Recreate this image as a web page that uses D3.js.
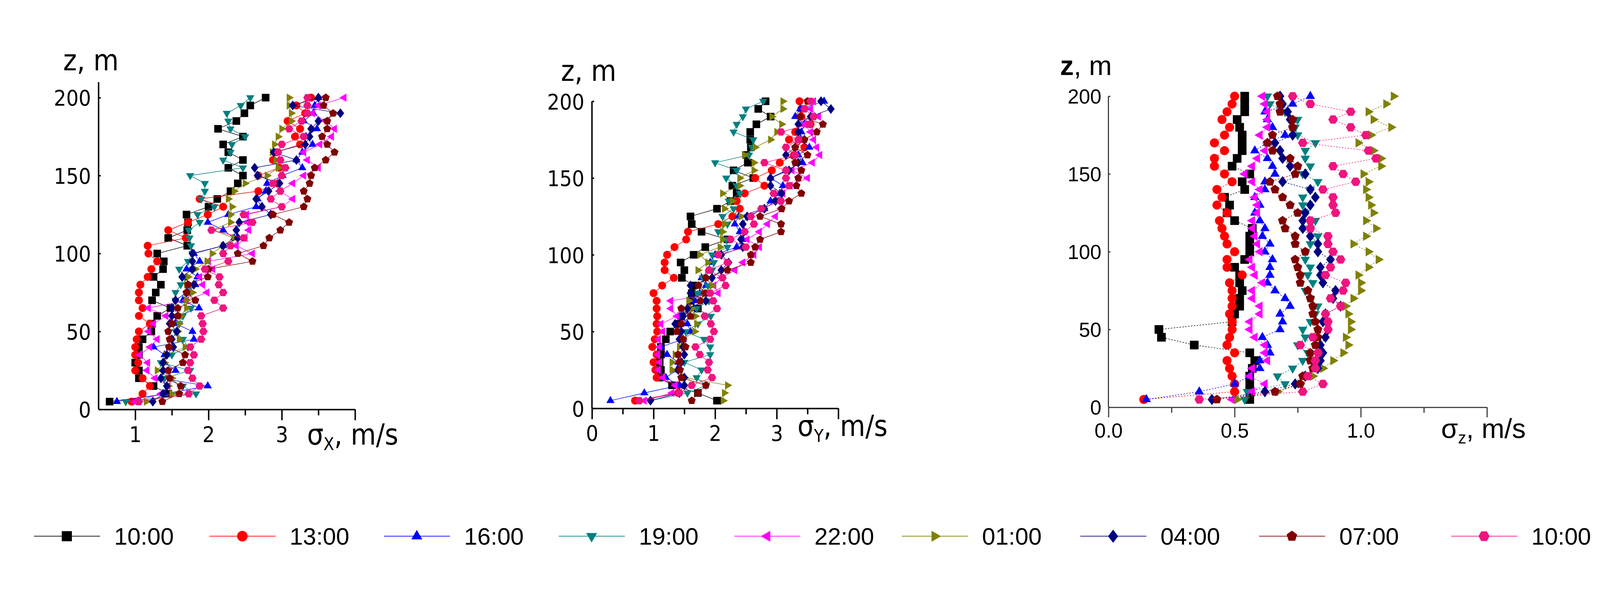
<!DOCTYPE html>
<html>
<head>
<meta charset="utf-8">
<script src="https://d3js.org/d3.v7.min.js"></script>
<style>
  html, body { margin: 0; padding: 0; background: #fff; overflow: hidden; }
  svg { display: block; }
  .narrow { font-family: "Liberation Sans Narrow", "DejaVu Sans Condensed", "Liberation Sans", sans-serif; }
  .sans { font-family: "Liberation Sans", Arial, sans-serif; }
</style>
</head>
<body>
<div id="chart"></div>
<script>
// heights, m
const heights = d3.range(5, 201, 5);

// series names and colours
const names = ["10:00", "13:00", "16:00", "19:00", "22:00", "01:00", "04:00", "07:00", "10:00"];
const colors = ["#000000", "#ff0000", "#0000ff", "#008080", "#ff00ff", "#808000", "#000080", "#800000", "#f0147f"];
const shapes = ["square", "circle", "up", "down", "left", "right", "diamond", "pentagon", "hexagon"];

// sigma_x, m/s
const sigmaX = [
  [0.65,1.45,1.25,1.05,1.05,1.0,1.05,1.05,1.1,1.22,1.22,1.3,1.48,1.23,1.28,1.35,1.25,1.38,1.39,1.3,1.71,1.45,1.71,1.72,1.7,2.0,2.12,2.3,2.4,2.47,2.27,2.47,2.27,2.2,2.47,2.13,2.38,2.49,2.57,2.78],
  [0.95,1.1,1.2,1.1,1.0,1.04,1.0,1.0,1.02,1.05,1.2,1.05,1.1,1.05,1.05,1.07,1.17,1.22,1.3,1.18,1.17,1.69,1.45,1.72,1.99,2.2,1.88,2.68,2.95,2.68,2.97,2.88,2.93,3.25,3.18,3.25,3.08,3.32,3.2,3.4],
  [0.75,1.4,1.99,1.35,1.55,1.4,1.4,1.25,1.8,1.78,1.55,1.58,1.87,1.65,1.72,1.82,1.85,1.7,1.88,1.8,2.2,2.35,2.2,1.99,2.27,2.65,2.67,2.78,2.8,3.01,3.28,3.2,3.28,3.42,3.33,3.48,3.3,3.43,3.45,3.5],
  [0.87,1.83,1.65,1.4,1.75,1.35,1.5,1.72,1.65,1.55,1.6,1.65,1.76,1.55,1.55,1.62,1.68,1.6,1.72,1.78,1.76,1.74,1.73,1.88,1.85,2.08,1.9,1.95,1.95,1.75,2.47,2.2,2.3,2.32,2.5,2.3,2.27,2.25,2.44,2.57],
  [1.0,1.35,1.45,1.27,1.16,1.17,1.06,1.2,1.3,1.18,1.25,1.42,1.18,1.7,1.98,1.92,1.88,2.06,2.0,2.6,2.38,2.5,2.55,2.53,2.52,3.0,3.15,2.97,3.15,3.3,3.5,3.35,3.3,3.52,3.68,3.72,3.6,3.42,3.5,3.85],
  [1.15,1.5,1.45,1.5,1.3,1.4,1.42,1.68,1.6,1.58,1.6,1.62,1.7,1.7,1.78,1.7,1.72,1.82,1.98,2.05,2.2,2.35,2.05,2.3,2.3,2.32,2.27,2.35,2.5,2.8,2.95,2.92,2.87,2.9,2.95,3.0,3.13,3.13,3.1,3.1],
  [1.24,1.38,1.43,1.35,1.38,1.38,1.43,1.52,1.5,1.57,1.47,1.5,1.5,1.55,1.7,1.8,1.64,1.78,1.78,1.78,2.2,2.4,2.38,2.42,2.85,2.73,2.65,2.82,2.97,2.67,2.63,3.2,2.89,3.32,3.38,3.4,3.5,3.8,3.15,3.5],
  [1.37,1.6,1.62,1.47,1.45,1.65,1.68,1.46,1.47,1.45,1.5,1.58,1.58,1.82,1.7,1.72,1.99,2.0,2.6,2.4,2.75,2.83,2.98,3.1,2.88,3.3,3.35,3.3,3.38,3.4,3.45,3.6,3.72,3.62,3.55,3.62,3.62,3.7,3.57,3.6],
  [1.05,1.73,1.88,1.78,1.72,1.75,1.8,1.75,1.9,1.93,1.92,1.9,2.2,2.08,2.2,2.14,2.15,1.95,2.27,2.2,2.3,2.48,2.04,2.6,2.48,3.0,2.85,2.98,2.88,3.0,3.05,2.98,2.95,3.0,3.3,3.1,3.27,3.35,3.35,3.35]
];

// sigma_y, m/s
const sigmaY = [
  [2.03,1.72,1.3,1.1,1.12,1.1,1.12,1.12,1.2,1.27,1.4,1.45,1.72,1.6,1.62,1.65,1.46,1.5,1.44,1.65,1.84,2.2,1.78,1.62,1.6,2.03,2.25,2.35,2.28,2.62,2.3,2.53,2.5,2.58,2.57,2.57,2.67,2.9,2.7,2.82],
  [0.7,1.4,1.4,1.05,1.03,1.0,1.05,0.98,1.02,1.06,1.05,1.06,1.05,1.05,1.0,1.14,1.33,1.18,1.18,1.22,1.34,1.53,1.56,2.05,2.28,2.4,2.35,2.48,2.8,2.65,2.92,3.05,3.28,3.45,3.2,3.3,3.55,3.4,3.4,3.37],
  [0.3,0.85,1.42,1.2,1.38,1.4,1.22,1.12,1.48,1.6,1.55,1.45,1.65,1.67,1.75,1.85,1.78,1.9,1.92,2.0,2.35,2.45,2.4,2.32,2.38,2.8,2.9,3.05,3.1,2.9,3.15,3.42,3.35,3.53,3.38,3.4,3.45,3.3,3.38,3.77],
  [0.95,1.55,1.85,1.7,1.78,1.5,1.92,1.92,1.82,1.52,1.72,1.93,1.7,1.9,1.72,1.88,1.8,1.95,1.98,1.95,2.2,2.18,2.05,2.2,2.12,2.3,2.22,2.4,2.35,2.18,2.35,2.0,2.55,2.6,2.62,2.3,2.35,2.45,2.5,2.78],
  [0.85,1.3,1.35,1.15,1.08,1.1,1.07,1.1,1.08,1.15,1.12,1.38,1.28,1.28,2.05,1.98,2.1,2.32,2.45,2.63,2.72,2.52,2.72,2.85,2.98,3.07,3.02,3.1,3.22,3.5,3.25,3.58,3.7,3.65,3.6,3.55,3.45,3.68,3.55,3.6],
  [2.13,2.15,2.2,1.5,1.3,1.3,1.35,1.42,1.48,1.67,1.7,1.68,1.62,1.57,1.82,1.95,1.85,1.72,1.88,1.75,2.08,2.12,2.12,2.15,2.42,2.15,2.28,2.12,2.4,2.4,2.63,2.63,2.48,2.65,2.9,3.0,3.08,2.92,3.1,3.1],
  [0.95,1.42,1.5,1.5,1.4,1.45,1.5,1.48,1.42,1.45,1.35,1.48,1.55,1.85,1.6,1.6,1.95,2.1,2.22,2.1,2.45,2.42,2.47,2.45,2.52,2.8,2.98,3.08,2.9,2.9,3.2,3.35,3.15,3.3,3.45,3.35,3.35,3.55,3.88,3.72],
  [1.62,1.72,1.85,1.45,1.43,1.42,1.4,1.52,1.48,1.38,1.45,1.6,1.45,1.76,1.84,1.73,1.85,2.2,2.58,2.58,2.65,2.73,3.07,3.07,2.73,3.08,3.2,3.4,3.32,3.35,3.4,3.3,3.5,3.3,3.45,3.65,3.75,3.38,3.45,3.5],
  [0.77,1.42,1.62,1.95,1.88,1.9,1.75,1.68,1.92,1.98,1.93,1.83,2.03,1.97,1.92,2.17,2.12,1.9,2.2,2.05,2.5,2.25,2.48,2.63,2.58,2.75,3.07,2.95,3.2,3.15,3.15,2.8,3.3,3.15,3.35,3.07,3.53,3.6,3.45,3.55]
];

// sigma_z, m/s
const sigmaZ = [
  [0.56,0.56,0.56,0.56,0.57,0.58,0.56,0.34,0.21,0.2,0.49,0.5,0.52,0.52,0.53,0.52,0.52,0.5,0.54,0.56,0.56,0.56,0.57,0.5,0.47,0.48,0.46,0.54,0.53,0.56,0.49,0.51,0.53,0.53,0.53,0.52,0.51,0.54,0.54,0.54],
  [0.14,0.5,0.5,0.49,0.48,0.47,0.5,0.47,0.48,0.49,0.49,0.48,0.49,0.49,0.49,0.48,0.53,0.47,0.47,0.5,0.47,0.46,0.45,0.44,0.47,0.43,0.45,0.43,0.49,0.46,0.42,0.42,0.46,0.42,0.46,0.48,0.45,0.47,0.49,0.5],
  [0.15,0.36,0.5,0.56,0.6,0.6,0.64,0.63,0.61,0.68,0.69,0.68,0.72,0.7,0.66,0.63,0.64,0.64,0.65,0.62,0.64,0.61,0.62,0.6,0.58,0.6,0.58,0.62,0.62,0.66,0.65,0.63,0.58,0.63,0.7,0.65,0.63,0.62,0.73,0.8],
  [0.54,0.55,0.7,0.67,0.73,0.77,0.79,0.75,0.78,0.77,0.8,0.82,0.83,0.8,0.78,0.81,0.79,0.8,0.78,0.78,0.8,0.83,0.8,0.82,0.78,0.77,0.77,0.8,0.83,0.77,0.8,0.78,0.78,0.82,0.75,0.74,0.75,0.7,0.64,0.63],
  [0.49,0.57,0.62,0.56,0.57,0.63,0.62,0.62,0.58,0.56,0.56,0.6,0.6,0.57,0.57,0.61,0.58,0.57,0.56,0.6,0.59,0.58,0.57,0.57,0.59,0.59,0.58,0.6,0.57,0.54,0.57,0.59,0.62,0.63,0.6,0.63,0.63,0.63,0.62,0.61],
  [0.51,0.67,0.76,0.81,0.85,0.89,0.93,0.95,0.94,0.96,0.96,0.95,0.94,0.97,1.0,1.0,0.99,1.03,1.07,1.03,0.97,1.02,1.06,1.02,1.05,1.04,1.03,1.02,1.03,1.01,1.08,1.08,1.05,0.99,1.04,1.12,1.05,1.03,1.1,1.13],
  [0.41,0.62,0.74,0.78,0.83,0.84,0.85,0.84,0.86,0.87,0.85,0.86,0.92,0.89,0.9,0.85,0.84,0.84,0.88,0.83,0.83,0.8,0.77,0.77,0.78,0.8,0.82,0.8,0.69,0.78,0.72,0.69,0.68,0.66,0.73,0.73,0.72,0.71,0.69,0.68],
  [0.43,0.66,0.76,0.77,0.81,0.8,0.8,0.82,0.83,0.83,0.82,0.81,0.81,0.8,0.79,0.76,0.76,0.75,0.74,0.78,0.74,0.74,0.7,0.69,0.75,0.72,0.69,0.66,0.64,0.74,0.75,0.72,0.65,0.63,0.65,0.73,0.73,0.68,0.68,0.67],
  [0.36,0.77,0.85,0.79,0.82,0.82,0.83,0.76,0.81,0.87,0.87,0.86,0.92,0.88,0.93,0.94,0.86,0.88,0.92,0.89,0.87,0.87,0.8,0.8,0.9,0.89,0.89,0.85,0.98,0.93,0.89,1.06,1.03,0.77,1.02,0.96,0.89,0.96,0.8,0.73]
];

// tick labels
const zTicks = [0, 50, 100, 150, 200];
const xTicks1 = [1, 2, 3, 4], xMinor1 = [1.5, 2.5, 3.5];
const xTicks2 = [0, 1, 2, 3, 4], xMinor2 = [0.5, 1.5, 2.5, 3.5];
const xTicks3 = [0, 0.5, 1.0, 1.5], xMinor3 = [0.25, 0.75, 1.25];

const W = 4430, H = 1528;
const svg = d3.select("#chart").append("svg")
  .attr("viewBox", `0 0 ${W} ${H}`)
  .attr("preserveAspectRatio", "xMidYMid meet")
  .style("width", "100vw").style("height", "100vh");

// marker path, r = half size
function marker(shape, r) {
  const poly = (n, rot, rr) => "M" + d3.range(n).map(i => {
    const a = rot + i * 2 * Math.PI / n;
    return [rr * Math.cos(a), rr * Math.sin(a)].join(",");
  }).join("L") + "Z";
  switch (shape) {
    case "square": return `M${-r},${-r}H${r}V${r}H${-r}Z`;
    case "circle": return poly(24, 0, r * 1.05);
    case "up": return poly(3, -Math.PI / 2, r * 1.25);
    case "down": return poly(3, Math.PI / 2, r * 1.25);
    case "left": return poly(3, Math.PI, r * 1.25);
    case "right": return poly(3, 0, r * 1.25);
    case "diamond": return `M0,${-r * 1.3}L${r},0L0,${r * 1.3}L${-r},0Z`;
    case "pentagon": return poly(5, -Math.PI / 2, r * 1.1);
    case "hexagon": return poly(6, 0, r * 1.1);
  }
}

function panel(cfg) {
  const x = d3.scaleLinear().domain(cfg.xdom).range([cfg.x0, cfg.x1]);
  const y = d3.scaleLinear().domain([0, 200]).range([cfg.yb, cfg.yt]);
  const g = svg.append("g");
  const fontCls = cfg.narrow ? "narrow" : "sans";

  // series
  cfg.data.forEach((vals, i) => {
    const pts = vals.map((v, j) => [v, heights[j]]);
    g.append("path")
      .datum(pts)
      .attr("fill", "none")
      .attr("stroke", colors[i])
      .attr("stroke-width", cfg.lw)
      .attr("stroke-dasharray", cfg.dash || null)
      .attr("d", d3.line().x(d => x(d[0])).y(d => y(d[1])));
    g.selectAll(null).data(pts).enter().append("path")
      .attr("transform", d => `translate(${x(d[0])},${y(d[1])})`)
      .attr("d", marker(shapes[i], cfg.ms))
      .attr("fill", colors[i]);
  });

  // axes
  const ax = g.append("g").attr("transform", `translate(0,${cfg.yb})`)
    .call(d3.axisBottom(x).tickValues(cfg.xt).tickSize(cfg.tick).tickSizeOuter(0)
      .tickFormat(d => cfg.xLab.includes(d) ? cfg.fmt(d) : ""));
  ax.append("g").call(d3.axisBottom(x).tickValues(cfg.xm).tickSize(cfg.tick * 0.55).tickFormat(""))
    .select(".domain").remove();
  const ay = g.append("g").attr("transform", `translate(${cfg.x0},0)`)
    .call(d3.axisLeft(y).tickValues(zTicks).tickSize(cfg.tick * 0.45).tickSizeOuter(0));
  ay.selectAll(".tick line").attr("x2", cfg.tick * 0.2);
  ay.select(".domain").attr("d", `M0,${cfg.ytop}V${cfg.yb}`);
  [ax, ay].forEach(a => {
    a.selectAll(".domain, .tick line").attr("stroke", cfg.axisColor).attr("stroke-width", cfg.aw);
    a.selectAll("text").attr("class", fontCls).attr("font-size", cfg.fs).attr("fill", "#000");
  });
  ax.selectAll("text").attr("dy", cfg.fs * 0.95);
  ay.selectAll("text").attr("dy", "0.36em").attr("x", -cfg.tick * 0.7);

  // axis titles
  const zt = g.append("text").attr("class", fontCls).attr("x", cfg.zx).attr("y", cfg.zy)
    .attr("font-size", cfg.tfs);
  zt.append("tspan").attr("font-weight", cfg.zBold ? "bold" : null).text("z");
  zt.append("tspan").text(", m");
  const t = g.append("text").attr("class", fontCls).attr("x", cfg.sx).attr("y", cfg.sy)
    .attr("font-size", cfg.tfs);
  t.append("tspan").text("σ");
  t.append("tspan").attr("font-size", cfg.tfs * 0.6).attr("dy", cfg.tfs * 0.2).text(cfg.sub);
  t.append("tspan").attr("dy", -cfg.tfs * 0.2).text(", m/s");
}

panel({ data: sigmaX, xdom: [0.5, 4], x0: 273, x1: 983, yt: 208, yb: 1071, ytop: 165,
  xt: xTicks1, xm: xMinor1, xLab: [1, 2, 3], fmt: d3.format("d"), tick: 30, narrow: true,
  fs: 60, tfs: 80, lw: 1.5, ms: 10.5, aw: 4, axisColor: "#000",
  zx: 175, zy: 132, sx: 850, sy: 1168, sub: "X" });
panel({ data: sigmaY, xdom: [0, 4], x0: 1639, x1: 2321, yt: 218, yb: 1068, ytop: 218,
  xt: xTicks2, xm: xMinor2, xLab: [0, 1, 2, 3], fmt: d3.format("d"), tick: 30, narrow: true,
  fs: 60, tfs: 80, lw: 1.5, ms: 10.5, aw: 4, axisColor: "#000",
  zx: 1553, zy: 162, sx: 2208, sy: 1145, sub: "Y" });
panel({ data: sigmaZ, xdom: [0, 1.5], x0: 3069, x1: 4117, yt: 204, yb: 1065, ytop: 204,
  xt: xTicks3, xm: xMinor3, xLab: [0, 0.5, 1.0], fmt: d3.format(".1f"), tick: 28, narrow: false,
  fs: 56, tfs: 76, lw: 1.5, ms: 12, aw: 3, axisColor: "#333", dash: "4,4", zBold: true,
  zx: 2935, zy: 145, sx: 3990, sy: 1150, sub: "z" });

// legend
const legendX = [94, 580, 1063, 1547, 2033, 2497, 2991, 3486, 4018];
const lg = svg.append("g").attr("transform", "translate(0,1422)");
names.forEach((n, i) => {
  const it = lg.append("g").attr("transform", `translate(${legendX[i]},0)`);
  it.append("line").attr("x1", 0).attr("x2", 183).attr("stroke", colors[i]).attr("stroke-width", 2);
  it.append("path").attr("transform", "translate(91,0)").attr("d", marker(shapes[i], 14)).attr("fill", colors[i]);
  it.append("text").attr("class", "sans").attr("x", 222).attr("dy", "0.36em")
    .attr("font-size", 66).text(n);
});
</script>
</body>
</html>
